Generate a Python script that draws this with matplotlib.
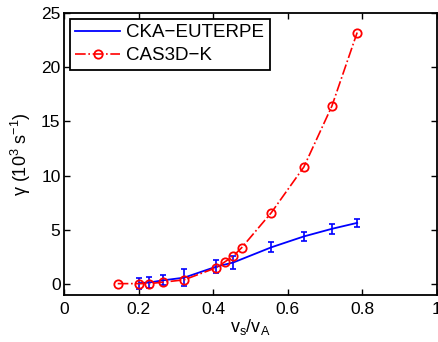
import matplotlib
matplotlib.use("Agg")
import matplotlib.pyplot as plt

plt.rcParams['font.family'] = ['Liberation Sans', 'DejaVu Sans']
plt.rcParams['mathtext.fontset'] = 'custom'
plt.rcParams['mathtext.rm'] = 'Liberation Sans'
plt.rcParams['mathtext.it'] = 'Liberation Sans'

# CKA-EUTERPE
cka_x = [0.202, 0.228, 0.265, 0.322, 0.407, 0.454, 0.556, 0.643, 0.718, 0.786]
cka_y = [0.1, 0.15, 0.35, 0.6, 1.6, 2.0, 3.4, 4.4, 5.1, 5.65]
cka_err = [0.5, 0.5, 0.45, 0.8, 0.6, 0.6, 0.45, 0.45, 0.45, 0.4]

# CAS3D-K
cas_x = [0.144, 0.202, 0.228, 0.265, 0.322, 0.407, 0.431, 0.454, 0.476, 0.556, 0.643, 0.718, 0.786]
cas_y = [0.05, 0.05, 0.05, 0.18, 0.4, 1.5, 2.05, 2.6, 3.35, 6.6, 10.8, 16.4, 23.2]

xticks = [0, 0.2, 0.4, 0.6, 0.8, 1]
xticklabels = ['0', '0.2', '0.4', '0.6', '0.8', '1']
yticks = [0, 5, 10, 15, 20, 25]

fig = plt.figure(figsize=(4.39, 3.42), dpi=100)
ax = fig.add_axes([0.1458, 0.1374, 0.8496, 0.8246])

ax.plot(cka_x, cka_y, color='#0000ff', lw=1.3, label='CKA\u2212EUTERPE')
ax.errorbar(cka_x, cka_y, yerr=cka_err, fmt='none', ecolor='#0000ff', capsize=2.2,
            elinewidth=1.2, capthick=1.2)
ax.plot(cas_x, cas_y, color='#ff0000', ls='-.', lw=1.2, marker='o', ms=6,
        mfc='none', mec='#ff0000', mew=1.3, label='CAS3D\u2212K')

ax.set_xlim(0, 1)
ax.set_ylim(-1, 25)
ax.set_xticks(xticks)
ax.set_xticklabels(xticklabels)
ax.set_yticks(yticks)
ax.tick_params(direction='in', top=True, right=True, labelsize=12.5, length=4, width=1)
ax.tick_params(axis='x', pad=5)
ax.tick_params(axis='y', pad=2.5)
for s in ax.spines.values():
    s.set_linewidth(1.3)

ax.set_xlabel('v$_s$/v$_A$', fontsize=13, labelpad=0)
ax.set_ylabel('\u03b3 (10$^3$ s$^{-1}$)', fontsize=13, labelpad=6)

leg = ax.legend(loc='upper left', fontsize=13.5, frameon=True, fancybox=False,
                edgecolor='black', handlelength=2.4, borderaxespad=0.3,
                borderpad=0.3, labelspacing=0.3, handletextpad=0.3)
leg.get_frame().set_linewidth(1.3)
leg.get_frame().set_alpha(1)

fig.savefig('out.png', dpi=100)
